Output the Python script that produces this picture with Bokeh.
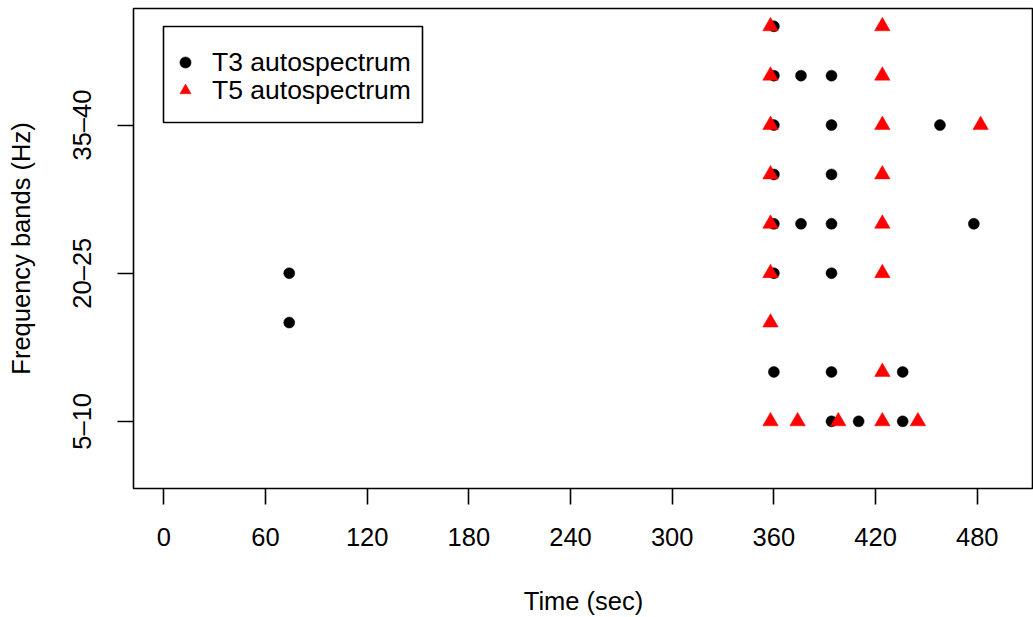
from bokeh.plotting import figure
from bokeh.models import Range1d, FixedTicker, Legend, LegendItem, BoxAnnotation
from bokeh.embed import file_html
from bokeh.resources import INLINE

# ---- data ----
t3_time = [360, 360, 376, 394, 360, 394, 458, 360, 394, 360, 376, 394, 478,
           74, 360, 394, 74, 360, 394, 436, 394, 410, 436]
t3_band = [9, 8, 8, 8, 7, 7, 7, 6, 6, 5, 5, 5, 5,
           4, 4, 4, 3, 2, 2, 2, 1, 1, 1]
t5_time = [358, 424, 358, 424, 358, 424, 482, 358, 424, 358, 424, 358, 424,
           358, 424, 358, 374, 398, 424, 445]
t5_band = [9, 9, 8, 8, 7, 7, 7, 6, 6, 5, 5, 4, 4,
           3, 2, 1, 1, 1, 1, 1]
x_ticks = [0, 60, 120, 180, 240, 300, 360, 420, 480]
band_ticks = [1, 4, 7]
band_labels = ["5\u201310", "20\u201325", "35\u201340"]
series_names = ["T3 autospectrum", "T5 autospectrum"]

FONT = "Liberation Sans"
FS = "25.5px"
LFS = "26.5px"

p = figure(width=1033, height=617, output_backend="svg", toolbar_location=None,
           x_range=Range1d(-17.9, 513.2), y_range=Range1d(-0.36, 9.36),
           min_border_left=133, min_border_right=0, min_border_top=8,
           min_border_bottom=129)
p.background_fill_color = "white"
p.border_fill_color = "white"
p.outline_line_color = "black"
p.outline_line_width = 1.6
p.xgrid.visible = False
p.ygrid.visible = False

r3 = p.scatter(t3_time, t3_band, marker="circle", size=11,
               fill_color="black", line_color="black", line_width=0.5)
r5 = p.scatter(t5_time, t5_band, marker="triangle", size=15.5,
               fill_color="#FF0000", line_color="#FF0000", line_width=0.5)

for ax in (p.xaxis[0], p.yaxis[0]):
    ax.axis_line_color = None
    ax.major_tick_line_color = "black"
    ax.major_tick_line_width = 1.6
    ax.major_tick_out = 16
    ax.major_tick_in = 0
    ax.minor_tick_line_color = None
    ax.major_label_text_font = FONT
    ax.major_label_text_font_size = FS
    ax.major_label_text_color = "black"
    ax.axis_label_text_font = FONT
    ax.axis_label_text_font_size = FS
    ax.axis_label_text_font_style = "normal"
    ax.axis_label_text_color = "black"

p.xaxis.ticker = FixedTicker(ticks=x_ticks)
p.xaxis.axis_label = "Time (sec)"
p.xaxis.major_label_standoff = 23
p.xaxis.axis_label_standoff = 38

p.yaxis.ticker = FixedTicker(ticks=band_ticks)
p.yaxis.major_label_overrides = {b: l for b, l in zip(band_ticks, band_labels)}
p.yaxis.major_label_orientation = "vertical"
p.yaxis.axis_label = "Frequency bands (Hz)"
p.yaxis.major_label_standoff = 21
p.yaxis.axis_label_standoff = 31

# legend frame (screen units, relative to the plot frame)
box = BoxAnnotation(left=30, right=289, bottom=366, top=462,
                    left_units="screen", right_units="screen",
                    bottom_units="screen", top_units="screen",
                    fill_color="white", fill_alpha=1.0,
                    line_color="black", line_width=1.6, line_alpha=1.0)
p.add_layout(box)

renderers = [r3, r5]
legend_y = [408, 380]
for name, rend, ly in zip(series_names, renderers, legend_y):
    lg = Legend(items=[LegendItem(label=name, renderers=[rend])],
                location=(38, ly), orientation="vertical")
    lg.border_line_color = None
    lg.background_fill_alpha = 0.0
    lg.label_text_font = FONT
    lg.label_text_font_size = LFS
    lg.label_text_color = "black"
    lg.padding = 0
    lg.margin = 0
    lg.glyph_width = 28
    lg.glyph_height = 36
    lg.label_height = 36
    lg.label_standoff = 13
    lg.spacing = 0
    p.add_layout(lg, "center")

open("out.html", "w").write(file_html(p, INLINE))
